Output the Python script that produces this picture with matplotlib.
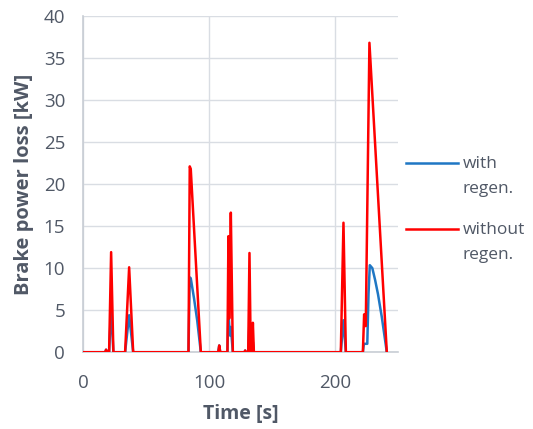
import matplotlib
matplotlib.use("Agg")
import matplotlib.pyplot as plt
from matplotlib.lines import Line2D

# ---- data ----
t_without = [0, 17.5, 18.2, 19.0, 20.6, 22.2, 24.0, 33.3, 36.5, 39.7,
             83.6, 84.6, 85.4, 93.4, 107.2, 108.0, 108.8,
             114.5, 115.3, 115.9, 116.4, 117.2, 118.8,
             128.0, 128.6, 129.3, 131.0, 132.0, 133.0, 134.0, 134.7, 135.5,
             204.5, 206.6, 208.5, 222.0, 223.0, 224.3, 227.2, 241.0]
p_without = [0, 0, 0.3, 0, 0, 11.9, 0, 0, 10.1, 0,
             0, 22.1, 21.8, 0, 0, 0.8, 0,
             0, 13.8, 4.0, 8.0, 16.6, 0,
             0, 0.2, 0, 0, 11.8, 0, 0, 3.5, 0,
             0, 15.4, 0, 0, 4.5, 3.1, 36.8, 0]

t_with = [0, 17.5, 18.2, 19.0, 20.6, 22.2, 24.0, 33.3, 36.5, 39.7,
          83.6, 84.6, 85.4, 88.0, 90.5, 93.4, 107.2, 108.0, 108.8,
          114.5, 115.3, 116.4, 117.2, 118.8,
          128.0, 128.6, 129.3, 131.0, 132.0, 133.0, 134.0, 134.7, 135.5,
          204.5, 206.6, 208.5, 222.0, 222.8, 225.5, 226.5, 227.5, 229.5,
          231.7, 234.0, 237.0, 241.0]
p_with = [0, 0, 0.3, 0, 0, 5.3, 0, 0, 4.4, 0,
          0, 8.9, 8.8, 6.4, 3.8, 0, 0, 0.8, 0,
          0, 4.8, 2.0, 3.0, 0,
          0, 0.2, 0, 0, 3.6, 0, 0, 1.2, 0,
          0, 3.8, 0, 0, 1.0, 1.0, 7.0, 10.35, 10.0,
          8.6, 6.9, 4.2, 0]

series_labels = [["with", "regen."], ["without", "regen."]]
series_colors = ["#1F77C4", "#FF0000"]
x_ticks = [0, 100, 200]
y_ticks = list(range(0, 45, 5))

# ---- figure ----
plt.rcParams['font.family'] = ['Open Sans', 'DejaVu Sans']
txt = "#505866"
grid_c = "#D9DDE3"
W, H = 533, 429

fig = plt.figure(figsize=(5.33, 4.29), dpi=100)
ax = fig.add_axes([0.156, 0.179, 0.591, 0.784])

ax.plot(t_with, p_with, color=series_colors[0], lw=1.8, zorder=3)
ax.plot(t_without, p_without, color=series_colors[1], lw=1.8, zorder=4)

ax.set_xlim(0, 250)
ax.set_ylim(0, 40)
ax.set_xticks(x_ticks)
ax.set_yticks(y_ticks)
ax.tick_params(length=0, labelsize=13.5, colors=txt)
ax.tick_params(axis='y', pad=13)
ax.tick_params(axis='x', pad=16)
ax.grid(True, color=grid_c, lw=1.0)
ax.set_axisbelow(True)
for s in ["top", "right"]:
    ax.spines[s].set_visible(False)
for s in ["left", "bottom"]:
    ax.spines[s].set_color("#C8CDD4")
    ax.spines[s].set_linewidth(1.2)

ax.set_ylabel("Brake power loss [kW]", fontsize=14.5, fontweight="bold", color=txt, labelpad=7)
ax.set_xlabel("Time [s]", fontsize=14, fontweight="bold", color=txt, labelpad=8)

# legend (first text line aligned with the handle, like the reference)
for (l1, l2), col, yc in zip(series_labels, series_colors, [163, 229]):
    fig.add_artist(Line2D([406 / W, 458 / W], [1 - yc / H] * 2, color=col, lw=1.8,
                          transform=fig.transFigure))
    fig.text(463 / W, 1 - (yc + 1) / H, l1, fontsize=12.5, color=txt, va="center", ha="left")
    fig.text(463 / W, 1 - (yc + 26) / H, l2, fontsize=12.5, color=txt, va="center", ha="left")

fig.savefig("out.png", dpi=100)
